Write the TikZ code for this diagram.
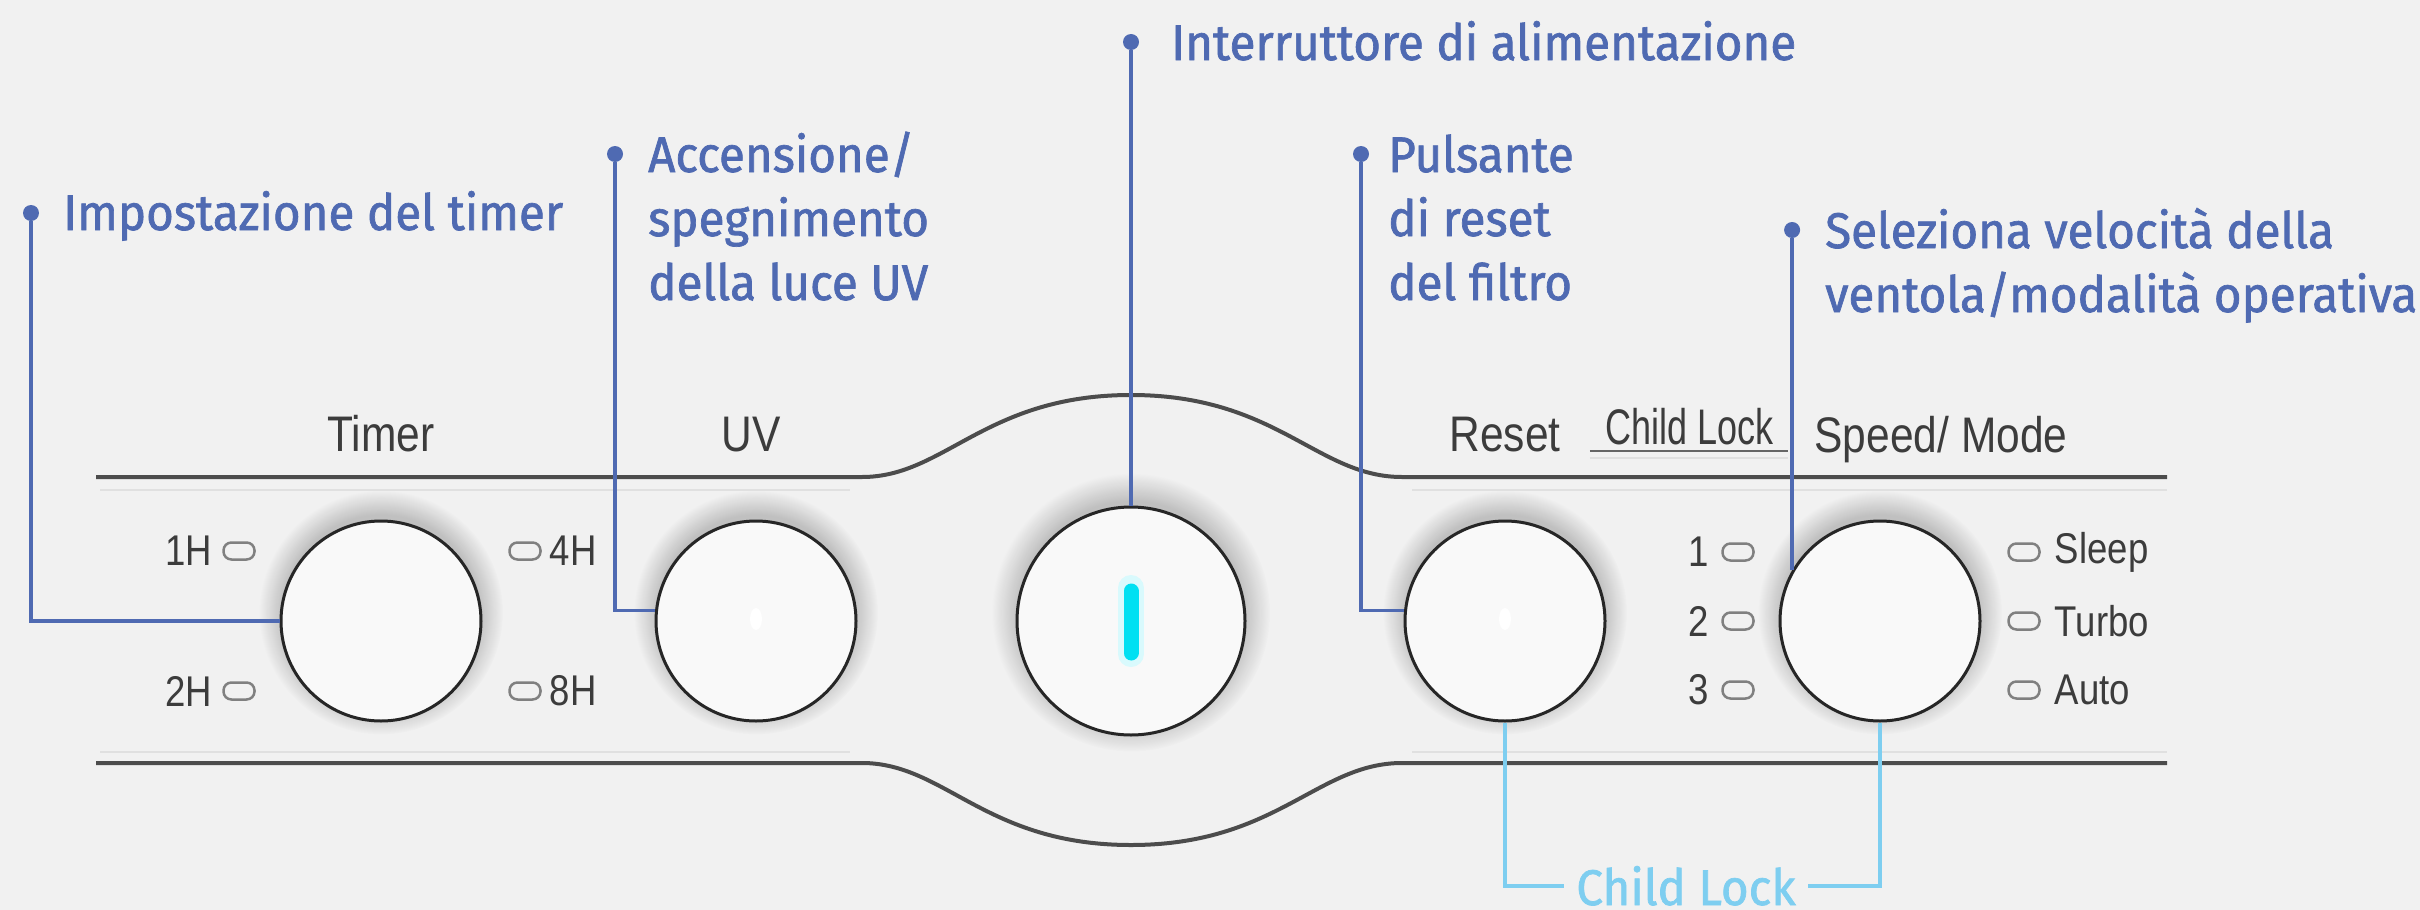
\documentclass[tikz,border=0pt]{standalone}
\usepackage{fontspec}
\usepackage{tikz}
\usetikzlibrary{positioning, shadows, fadings}
\newfontfamily\notefont[FakeStretch=0.95, FakeBold=1.4]{Fira Sans}
\newfontfamily\panelfont[FakeStretch=0.85]{Liberation Sans}
\newfontfamily\lockfont[FakeStretch=0.72]{Liberation Sans}
\definecolor{paper}{HTML}{F1F1F1}
\definecolor{callblue}{HTML}{4F6AB2}
\definecolor{lockblue}{HTML}{7ECEF0}
\definecolor{ink}{HTML}{3C3C3C}
\definecolor{ledcyan}{HTML}{00E0F2}

\begin{document}
\begin{tikzpicture}[x=1pt, y=-1pt,
    button/.style = {circle, draw=black!85, line width=3pt, fill=white!55!paper, minimum size=200pt, inner sep=0pt,
      general shadow={shadow scale=1.22, shadow yshift=7pt, fill=black, opacity=.2,
        path fading={circle with fuzzy edge 20 percent}}},
    lamp/.style = {draw=black!50, line width=2.5pt, rounded corners=8pt, minimum width=31pt, minimum height=17pt, inner sep=0pt},
    dot/.style = {circle, fill=callblue, minimum size=16pt, inner sep=0pt},
    note/.style = {text=callblue, font=\notefont\fontsize{50}{64}\selectfont, align=left, inner sep=0pt},
    tag/.style = {text=ink, font=\panelfont\fontsize{50}{60}\selectfont, inner sep=0pt},
    small/.style = {text=ink, font=\panelfont\fontsize{43}{50}\selectfont, inner sep=0pt},
    rim/.style = {black!70, line width=4pt},
    callout/.style = {callblue, line width=3.5pt},
    lockline/.style = {lockblue, line width=4pt},
  ]
  \fill[paper] (0,0) rectangle (2420,910);
  \useasboundingbox (0,0) rectangle (2420,910);

  % panel outline
  \draw[rim] (96,477) -- (862,477) .. controls (945,477) and (985,395) .. (1131,395)
    .. controls (1277,395) and (1317,477) .. (1402,477) -- (2167,477);
  \draw[rim] (96,763) -- (862,763) .. controls (945,763) and (985,845) .. (1131,845)
    .. controls (1277,845) and (1317,763) .. (1402,763) -- (2167,763);
  \draw[black!12, line width=2pt] (100,490) -- (850,490) (1412,490) -- (2167,490)
    (100,752) -- (850,752) (1412,752) -- (2167,752);

  % buttons
  \node[button] (timer) at (381,621) {};
  \node[button] (uv) at (756,621) {};
  \node[button, minimum size=228pt] (power) at (1131,621) {};
  \node[button] (reset) at (1505,621) {};
  \node[button] (speed) at (1880,621) {};

  \draw[ledcyan!15, line width=26pt, line cap=round] (power.center) ++(0,-33) -- ++(0,66);
  \draw[ledcyan, line width=15pt, line cap=round] (power.center) ++(0,-30) -- ++(0,62);
  \fill[white] (uv.center) ++(0,-2) ellipse [x radius=6, y radius=11];
  \fill[white] (reset.center) ++(0,-2) ellipse [x radius=6, y radius=11];

  % panel labels
  \node[tag, above=68pt of timer, anchor=base] (tTimer) {Timer};
  \node[tag, above=68pt of uv, anchor=base, xshift=-5pt] (tUV) {UV};
  \node[tag, above=68pt of reset, anchor=base] (tReset) {Reset};
  \node[tag, font=\lockfont\fontsize{50}{60}\selectfont, anchor=base] (tLock) at (1690,444) {Child Lock};
  \node[tag, anchor=base] (tSpeed) at (1941,452) {Speed/ Mode};
  \draw[black!60, line width=2pt] (tLock.south west) ++(-16,6) -- ++(198,0);
  \draw[black!12, line width=2pt] (tLock.south west) ++(-16,13) -- ++(198,0);

  % indicator lamps
  \node[lamp] (l1H) at (239,551) {};
  \node[lamp] (l2H) at (239,691) {};
  \node[lamp] (l4H) at (525,551) {};
  \node[lamp] (l8H) at (525,691) {};
  \node[small, left=10pt of l1H] (t1H) {1H};
  \node[small, left=10pt of l2H] (t2H) {2H};
  \node[small, right=8pt of l4H] (t4H) {4H};
  \node[small, right=8pt of l8H] (t8H) {8H};

  \node[lamp] (l1) at (1738,552) {};
  \node[lamp] (l2) at (1738,621) {};
  \node[lamp] (l3) at (1738,690) {};
  \node[small, left=12pt of l1] (t1) {1};
  \node[small, left=12pt of l2] (t2) {2};
  \node[small, left=12pt of l3] (t3) {3};
  \node[lamp] (lSleep) at (2024,552) {};
  \node[lamp] (lTurbo) at (2024,621) {};
  \node[lamp] (lAuto) at (2024,690) {};
  \node[small, right=14pt of lSleep] (tSleep) {Sleep};
  \node[small, right=14pt of lTurbo] (tTurbo) {Turbo};
  \node[small, right=14pt of lAuto] (tAuto) {Auto};

  % callouts
  \node[dot] (dTimer) at (31,213) {};
  \node[note, anchor=base west] (nTimer) at (63,230) {Impostazione del timer};
  \node[dot] (dUV) at (615,154) {};
  \node[note, anchor=base west] (nUV) at (648,300) {Accensione/\\spegnimento\\della luce UV};
  \node[dot] (dPower) at (power.north |- 0,42) {};
  \node[note, anchor=base west] (nPower) at (1171,60) {Interruttore di alimentazione};
  \node[dot] (dReset) at (1361,154) {};
  \node[note, anchor=base west] (nReset) at (1388,300) {Pulsante\\di reset\\del filtro};
  \node[dot] (dSpeed) at (speed.150 |- 0,230) {};
  \node[note, anchor=base west] (nSpeed) at (1825,312) {Seleziona velocità della\\ventola/modalità operativa};

  \draw[callout] (dTimer) |- (timer.west);
  \draw[callout] (dUV) |- (uv.174);
  \draw[callout] (dPower) -- (power.north);
  \draw[callout] (dReset) |- (reset.174);
  \draw[callout] (dSpeed) -- (speed.150);

  % child lock
  \node[text=lockblue, font=\notefont\fontsize{50}{60}\selectfont, anchor=base, inner xsep=12pt, inner ysep=0pt] (nLock) at (1686,905) {Child Lock};
  \draw[lockline] (reset.south) |- (nLock.west);
  \draw[lockline] (speed.south) |- (nLock.east);
\end{tikzpicture}
\end{document}
